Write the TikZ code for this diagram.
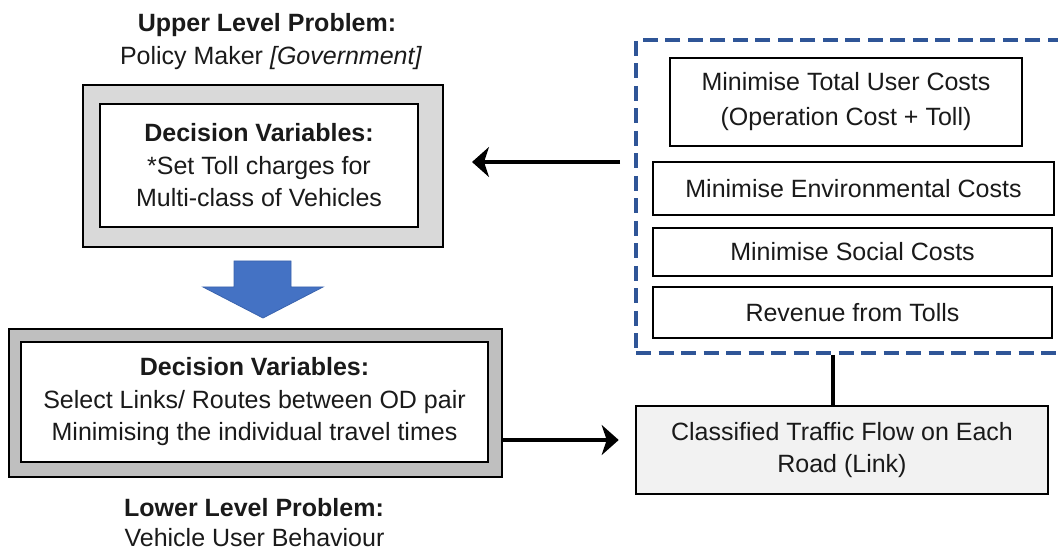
\documentclass[tikz,border=0pt]{standalone}
\usepackage{fontspec}
\setmainfont{Liberation Sans}
\usetikzlibrary{arrows.meta,calc}
\definecolor{lightfill}{HTML}{D9D9D9}
\definecolor{midfill}{HTML}{BFBFBF}
\definecolor{palefill}{HTML}{F2F2F2}
\definecolor{dashblue}{HTML}{2F5597}
\definecolor{arrowblue}{HTML}{4472C4}
\definecolor{arrowedge}{HTML}{3A63AD}
\definecolor{txt}{HTML}{1A1A1A}
\tikzset{
  every node/.style={text=txt, font=\fontsize{25}{32.5}\selectfont, inner sep=0pt, align=center},
  plainbox/.style={draw=black, line width=2.6pt, fill=white, rectangle},
  outerbox/.style={draw=black, line width=2.6pt, rectangle},
  container/.style={draw=dashblue, line width=4pt, dash pattern=on 15pt off 7.5pt, rectangle},
  conn/.style={draw=black, line width=4pt},
  arr/.style={conn, -{Stealth[length=17pt,width=30pt,inset=5pt]}},
  heading/.style={font=\fontsize{25}{32}\selectfont\bfseries}
}
\begin{document}
\begin{tikzpicture}[x=1pt,y=-1pt]
\useasboundingbox (0,0) rectangle (1058,553);

% headings
\node[heading] (uh) at (267,25) {Upper Level Problem:};
\node (us) at (271,58) {Policy Maker \textit{[Government]}};
\node[heading] (lh) at (254,508) {Lower Level Problem:};
\node (ls) at (254.5,538) {Vehicle User Behaviour};

% upper level boxes
\node[outerbox, fill=lightfill, minimum width=360pt, minimum height=162pt] (uo) at (263,166) {};
\node[plainbox, minimum width=318pt, minimum height=123pt] (ui) at (259,165.5)
  {\textbf{Decision Variables:}\\*Set Toll charges for\\Multi-class of Vehicles};

% blue block arrow
\path[fill=arrowblue, draw=arrowedge, line width=0.8pt]
  (234,261) -- (291,261) -- (291,287) -- (323,287) -- (263,318) -- (203,287) -- (234,287) -- cycle;

% lower level boxes
\node[outerbox, fill=midfill, minimum width=493pt, minimum height=148pt] (lo) at (255.5,403) {};
\node[plainbox, minimum width=467pt, minimum height=120pt] (li) at (254.5,402)
  {\textbf{Decision Variables:}\\Select Links/ Routes between OD pair\\Minimising the individual travel times};

% objectives container
\node[container, minimum width=428pt, minimum height=313pt] (cont) at (850,196.5) {};
\node[plainbox, minimum width=352pt, minimum height=88pt, font=\fontsize{25}{35}\selectfont] (o1) at (846,102)
  {Minimise Total User Costs\\(Operation Cost + Toll)};
\node[plainbox, minimum width=401pt, minimum height=53pt] (o2) at (853.5,188.5) {Minimise Environmental Costs};
\node[plainbox, minimum width=399pt, minimum height=48pt] (o3) at (852.5,252) {Minimise Social Costs};
\node[plainbox, minimum width=399pt, minimum height=51pt] (o4) at (852.5,312.5) {Revenue from Tolls};

% traffic flow box
\node[plainbox, fill=palefill, minimum width=412pt, minimum height=88pt] (tr) at (842,450)
  {Classified Traffic Flow on Each\\Road (Link)};

% connectors
\coordinate (a1) at (620,162);
\coordinate (a2) at (472,162);
\draw[arr] (a1) -- (a2);

\coordinate (b1) at ($(lo.east)+(0,37)$);
\draw[arr, shorten >=16pt] (b1) -- (b1 -| tr.west);

\coordinate (v1) at (833,355);
\draw[conn] (v1) -- (v1 |- tr.north);
\end{tikzpicture}
\end{document}
